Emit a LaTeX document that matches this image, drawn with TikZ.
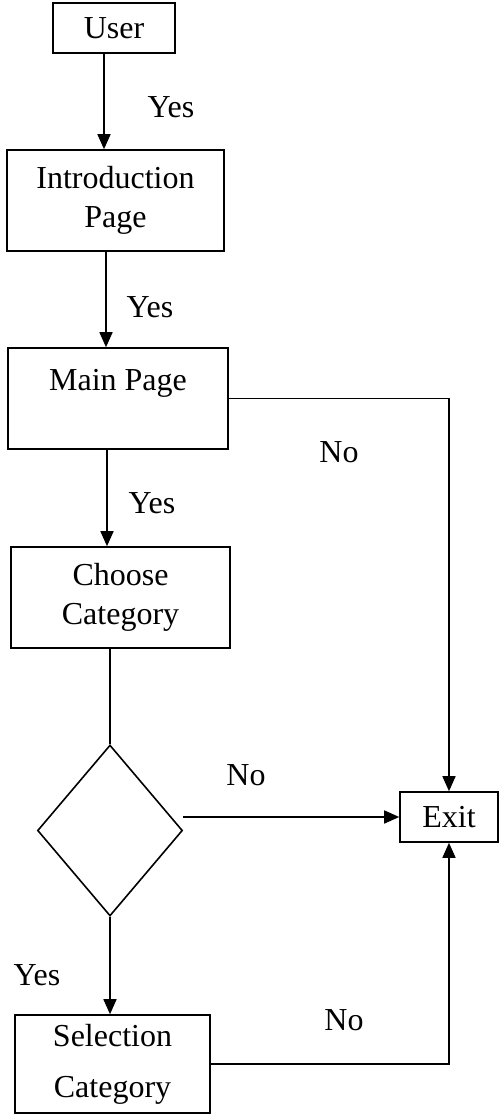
\documentclass[tikz,border=0pt]{standalone}
\usepackage{fontspec}
\setmainfont{Liberation Serif}
\usetikzlibrary{shapes.geometric,arrows.meta}

\tikzset{
	flowbox/.style={draw, line width=0.8pt, inner sep=0pt, align=center},
	decision/.style={draw, diamond, line width=0.8pt, inner sep=0pt, minimum width=72.5pt, minimum height=85.5pt},
	flowline/.style={line width=0.8pt},
	flowarrow/.style={line width=0.8pt, -{Triangle[length=7.5pt,width=6.5pt]}},
}

\begin{document}
\begin{tikzpicture}[x=0.5pt, y=-0.5pt, font=\fontsize{16}{19.5}\selectfont]
			\useasboundingbox (0,0) rectangle (503,1120);
			
			\node[flowbox, minimum width=61pt, minimum height=25pt] (user) at (114,28) {User};
			\node[flowbox, minimum width=108.5pt, minimum height=50.5pt] (intro) at (115.5,200.5) {Introduction\\Page};
			\node[flowbox, minimum width=110pt, minimum height=50.5pt, text depth=18.5pt] (main) at (118,398.5) {Main Page};
			\node[flowbox, minimum width=109.5pt, minimum height=50.5pt] (choose) at (120.5,597.5) {Choose\\Category};
			\node[decision] (dia) at (110,830.5) {};
			\node[flowbox, minimum width=49pt, minimum height=25pt] (exit) at (449,817) {Exit};
			\node[flowbox, minimum width=97.5pt, minimum height=49pt] (sel) at (112.5,1064) {Selection\\[6pt]Category};
			
			\node (yes1) at (171,107) {Yes};
			\node (yes2) at (150,307) {Yes};
			\node (yes3) at (152,503) {Yes};
			\node (yes4) at (37,975) {Yes};
			\node (no1) at (339,452) {No};
			\node (no2) at (246,775) {No};
			\node (no3) at (344,1020) {No};
			
			\draw[flowarrow] ([xshift=-5pt]user.south) -- ([xshift=-5pt]user.south |- intro.north);
			\draw[flowarrow] ([xshift=-4.75pt]intro.south) -- ([xshift=-4.75pt]intro.south |- main.north);
			\draw[flowarrow] ([xshift=-5.5pt]main.south) -- ([xshift=-5.5pt]main.south |- choose.north);
			\draw[flowline] (choose.south -| dia.north) -- (dia.north);
			\draw[flowarrow] (dia.south) -- (dia.south |- sel.north);
			\draw[flowarrow] (main.east) -| (exit.north);
			\draw[flowarrow] (dia.east |- exit.west) -- (exit.west);
			\draw[flowarrow] (sel.east) -| (exit.south);
\end{tikzpicture}
\end{document}
